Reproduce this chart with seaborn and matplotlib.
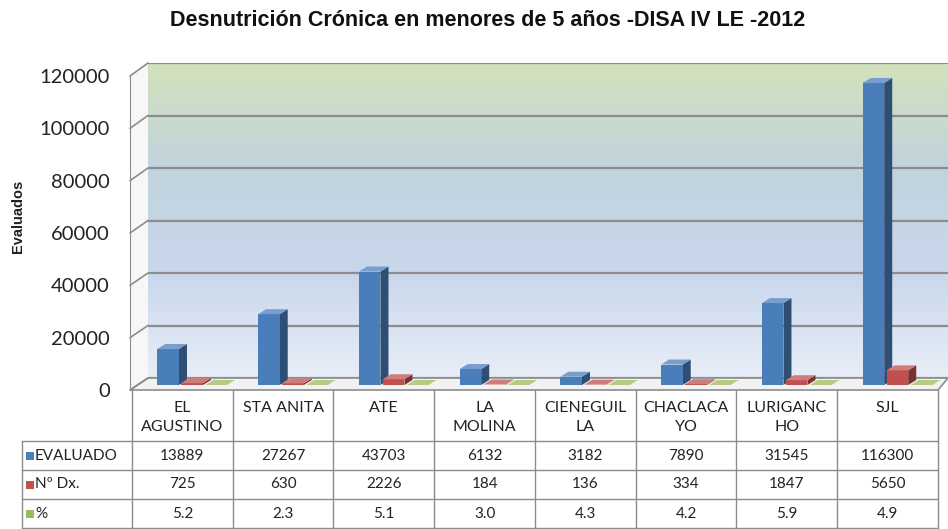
import numpy as np
import pandas as pd
import seaborn as sns
import matplotlib.pyplot as plt
from matplotlib.patches import Polygon, Rectangle
from matplotlib.transforms import IdentityTransform
from matplotlib.colors import to_rgb, LinearSegmentedColormap

distritos = ['EL\nAGUSTINO', 'STA ANITA', 'ATE', 'LA\nMOLINA', 'CIENEGUIL\nLA',
             'CHACLACA\nYO', 'LURIGANC\nHO', 'SJL']
evaluado = [13889, 27267, 43703, 6132, 3182, 7890, 31545, 116300]
n_dx = [725, 630, 2226, 184, 136, 334, 1847, 5650]
porcentaje = [5.2, 2.3, 5.1, 3.0, 4.3, 4.2, 5.9, 4.9]
series = ['EVALUADO', 'Nº Dx.', '%']
colores = ['#4A7EBB', '#C0504D', '#9BBB59']
yticks = [0, 20000, 40000, 60000, 80000, 100000, 120000]
titulo = 'Desnutrición Crónica en menores de 5 años -DISA IV LE -2012'

df = pd.DataFrame({
    'distrito': distritos * 3,
    'serie': np.repeat(series, len(distritos)),
    'valor': evaluado + n_dx + porcentaje,
})

sns.set_style('white')
plt.rcParams['font.family'] = ['Lato', 'DejaVu Sans']

W, H = 948, 529
fig = plt.figure(figsize=(W / 100, H / 100), dpi=100)
fig.patch.set_facecolor('white')


def px(x, y, w, h):
    # rectangulo en pixeles (y desde arriba) -> fracciones de figura
    return [x / W, (H - y - h) / H, w / W, h / H]


grid_col = '#8c8c8c'

# pared del fondo con degradado
axw = fig.add_axes(px(148, 63, 800, 315), zorder=0)
cmap = LinearSegmentedColormap.from_list('pared', ['#E8EEF8', '#C9D7EC', '#C1D3DE', '#D2E2BC'])
grad = np.linspace(0, 1, 256).reshape(-1, 1)
axw.imshow(grad, cmap=cmap, aspect='auto', origin='lower', extent=[0, 1, 0, 120000])
axw.set_xlim(0, 1)
axw.set_ylim(0, 120000)
for v in yticks:
    axw.axhline(v, color=grid_col, lw=1.6)
axw.set_xticks([])
axw.set_yticks([])
for s in axw.spines.values():
    s.set_visible(False)

# capa en pixeles: suelo, pared izquierda y tabla
axo = fig.add_axes([0, 0, 1, 1], zorder=1)
axo.set_xlim(0, W)
axo.set_ylim(H, 0)
axo.axis('off')
axo.patch.set_alpha(0)

axo.add_patch(Polygon([(130, 76), (148, 63), (148, 378), (130, 390)],
                      facecolor='#f7f7f7', edgecolor='none'))
axo.add_patch(Polygon([(130, 390), (148, 378), (948, 378), (938, 390)],
                      facecolor='#f2f2f2', edgecolor=grid_col, lw=1.2))
for v in yticks:
    yf = 390 - v * 314 / 120000
    yb = 378 - v * 315 / 120000
    axo.plot([130, 148], [yf, yb], color=grid_col, lw=1.2)

# tabla de datos
col_x = np.linspace(132, 938, len(distritos) + 1)
filas_y = [441, 470, 499, 528]
for y in filas_y:
    axo.plot([22, 938], [y, y], color=grid_col, lw=1)
for x in col_x:
    axo.plot([x, x], [390, 528], color=grid_col, lw=1)
axo.plot([22, 22], [441, 528], color=grid_col, lw=1)

centros = (col_x[:-1] + col_x[1:]) / 2
for cx, nombre in zip(centros, distritos):
    axo.text(cx, 401, nombre, ha='center', va='top', fontsize=11.5,
             linespacing=1.45, color='#222222')

valores_tabla = [
    [str(v) for v in evaluado],
    [str(v) for v in n_dx],
    [f'{v:.1f}' for v in porcentaje],
]
for i, (serie, color, fila) in enumerate(zip(series, colores, valores_tabla)):
    yc = (filas_y[i] + filas_y[i + 1]) / 2
    axo.add_patch(Rectangle((26, yc - 4), 8, 8, facecolor=color, edgecolor='none'))
    axo.text(35, yc, serie, ha='left', va='center', fontsize=11, color='#222222')
    for cx, txt in zip(centros, fila):
        axo.text(cx, yc, txt, ha='center', va='center', fontsize=11, color='#222222')

# eje frontal con las etiquetas
axf = fig.add_axes(px(130, 76, 18, 314), zorder=1.5)
axf.patch.set_alpha(0)
axf.set_ylim(0, 120000)
axf.set_yticks(yticks)
axf.set_yticklabels([str(v) for v in yticks])
axf.set_xticks([])
axf.tick_params(axis='y', length=0, pad=14.5, labelsize=14.5, labelcolor='#222222')
for k, s in axf.spines.items():
    s.set_visible(k == 'left')
axf.spines['left'].set_color(grid_col)
axf.set_ylabel('Evaluados', fontsize=10.5, fontweight='bold',
               family='Liberation Sans', color='#222222')
axf.yaxis.set_label_coords(-5.85, 0.553)

# barras
axb = fig.add_axes(px(143, 73.4, 806, 311.6), zorder=2)
axb.patch.set_alpha(0)
sns.barplot(data=df, x='distrito', y='valor', hue='serie', hue_order=series,
            palette=colores, width=0.715, saturation=1, legend=False, ax=axb)
axb.set_ylim(0, 120000)
axb.set_xlim(-0.5, len(distritos) - 0.5)
axb.axis('off')

# efecto 3D: cara frontal, lateral y superior a partir de cada barra
dx, dy = 8, 5
barras = sorted(axb.patches, key=lambda p: p.get_x())
for p in barras:
    x, w, h = p.get_x(), p.get_width(), p.get_height()
    c = np.array(to_rgb(p.get_facecolor()))
    x0, y0 = axb.transData.transform((x, 0))
    x1, y1 = axb.transData.transform((x + w, h))
    fw = (x1 - x0) * 0.9
    xa, xb = x0, x0 + fw
    oscuro = c * 0.62
    claro = c + (1 - c) * 0.25
    caras = [
        ([(xb, y0), (xb + dx, y0 + dy), (xb + dx, y1 + dy), (xb, y1)], oscuro),
        ([(xa, y0), (xb, y0), (xb, y1), (xa, y1)], c),
        ([(xa, y1), (xb, y1), (xb + dx, y1 + dy), (xa + dx, y1 + dy)], claro),
    ]
    for pts, col in caras:
        axb.add_patch(Polygon(pts, closed=True, facecolor=col, edgecolor='none',
                              transform=IdentityTransform(), clip_on=False))
    p.set_visible(False)

fig.text(488 / W, 1 - 20 / H, titulo, ha='center', va='center', fontsize=15.5,
         fontweight='bold', family='Liberation Sans', color='#111111')

fig.savefig('out.png', dpi=100)
